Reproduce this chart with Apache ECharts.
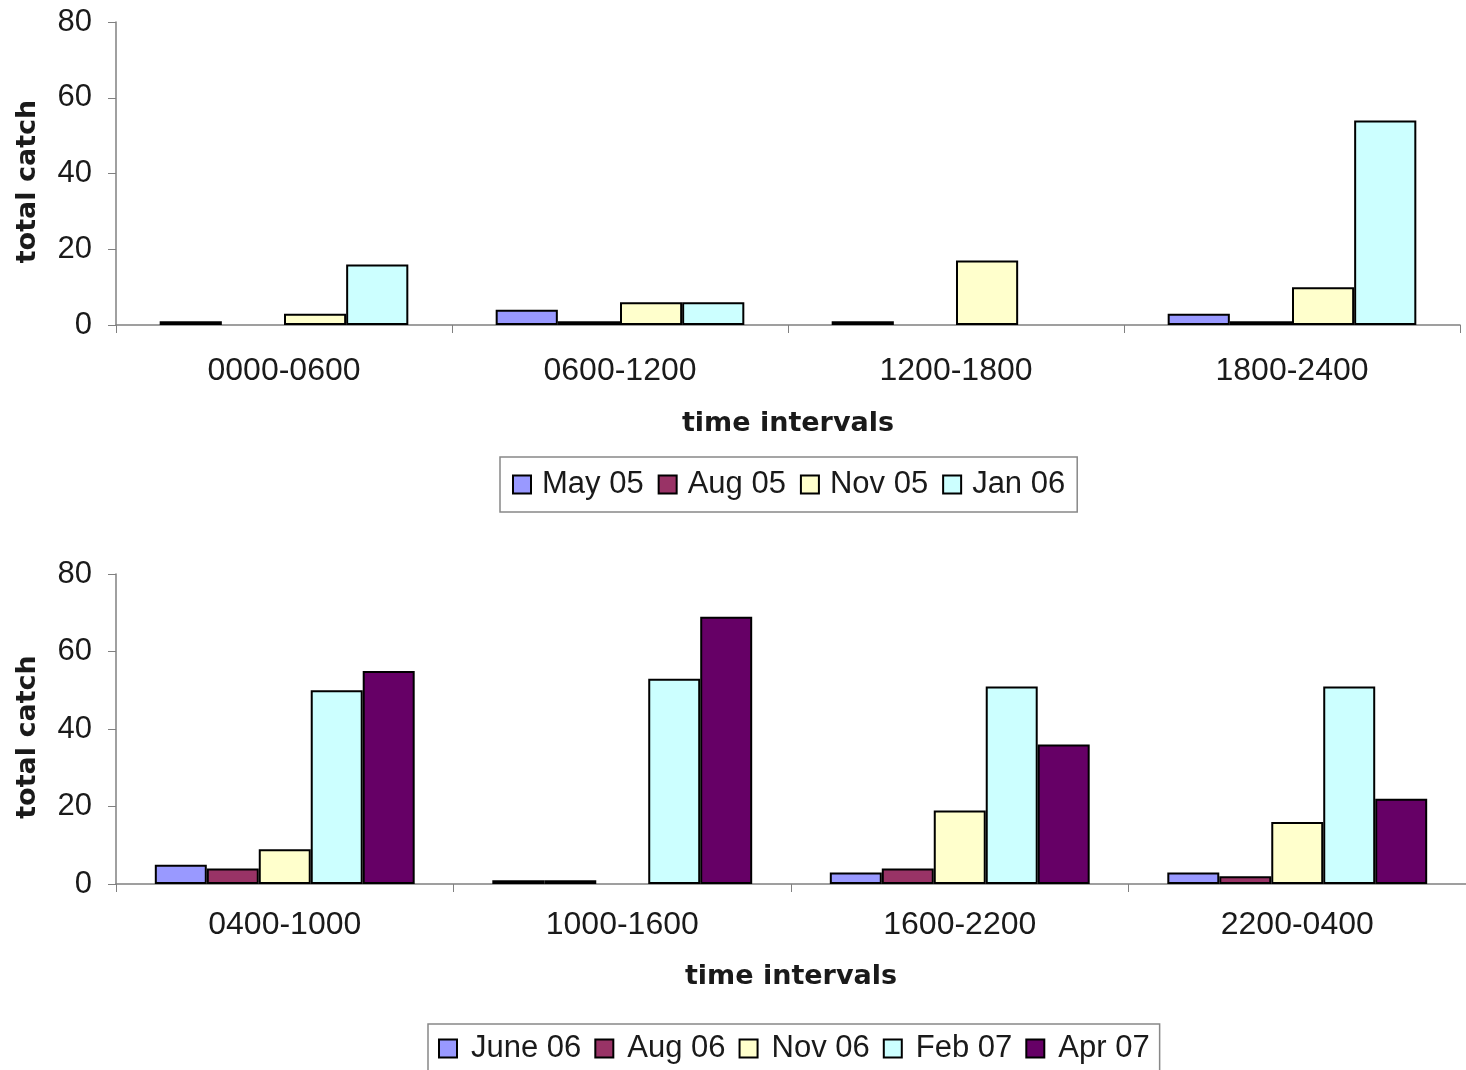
<!DOCTYPE html>
<html>
<head>
<meta charset="utf-8">
<script src="https://cdn.jsdelivr.net/npm/echarts@6/dist/echarts.min.js"></script>
<style>
  html, body { margin: 0; padding: 0; background: #fff; }
  #chart { width: 1466px; height: 1070px; }
</style>
</head>
<body>
<div id="chart"></div>
<script>
// ---- Data ----
const topCategories = ['0000-0600', '0600-1200', '1200-1800', '1800-2400'];
const topSeriesNames = ['May 05', 'Aug 05', 'Nov 05', 'Jan 06'];
const may05 = [1, 4, 1, 3];
const aug05 = [null, 1, null, 1];
const nov05 = [3, 6, 17, 10];
const jan06 = [16, 6, null, 54];

const bottomCategories = ['0400-1000', '1000-1600', '1600-2200', '2200-0400'];
const bottomSeriesNames = ['June 06', 'Aug 06', 'Nov 06', 'Feb 07', 'Apr 07'];
const june06 = [5, 1, 3, 3];
const aug06 = [4, 1, 4, 2];
const nov06 = [9, null, 19, 16];
const feb07 = [50, 53, 51, 51];
const apr07 = [55, 69, 36, 22];

const yTicks = { min: 0, max: 80, interval: 20 };
const yAxisTitle = 'total catch';
const xAxisTitle = 'time intervals';

// ---- Styles ----
const COLORS = {
  'May 05': '#9999ff', 'Aug 05': '#993366', 'Nov 05': '#ffffcc', 'Jan 06': '#ccffff',
  'June 06': '#9999ff', 'Aug 06': '#993366', 'Nov 06': '#ffffcc', 'Feb 07': '#ccffff', 'Apr 07': '#660066'
};
const REG = "'Liberation Sans', Arial, sans-serif";
const BOLD = "'DejaVu Sans', 'Liberation Sans', Arial, sans-serif";
const textColor = '#1a1a1a';
const axisColor = '#808080';

function xAxisCfg(gridIndex, cats, labelMargin, nameGap) {
  return {
    type: 'category', gridIndex, data: cats,
    axisLine: { lineStyle: { color: axisColor, width: 1.5 } },
    axisTick: { show: true, length: 8, lineStyle: { color: axisColor } },
    axisLabel: { color: textColor, fontFamily: REG, fontSize: 32, margin: labelMargin },
    name: xAxisTitle, nameLocation: 'middle', nameGap,
    nameTextStyle: { color: textColor, fontFamily: BOLD, fontWeight: 'bold', fontSize: 27 }
  };
}
function yAxisCfg(gridIndex) {
  return {
    type: 'value', gridIndex, min: yTicks.min, max: yTicks.max, interval: yTicks.interval,
    splitLine: { show: false },
    axisLine: { show: true, lineStyle: { color: axisColor, width: 1.5 } },
    axisTick: { show: true, length: 8, lineStyle: { color: axisColor } },
    axisLabel: { color: textColor, fontFamily: REG, fontSize: 31, margin: 24 },
    name: yAxisTitle, nameLocation: 'middle', nameRotate: 90, nameGap: 75,
    nameTextStyle: { color: textColor, fontFamily: BOLD, fontWeight: 'bold', fontSize: 27, padding: [0, 16, 0, 0] }
  };
}
function barSeries(name, data, axisIndex, catGap) {
  return {
    name, type: 'bar', data, xAxisIndex: axisIndex, yAxisIndex: axisIndex,
    barGap: '0%', barCategoryGap: catGap,
    itemStyle: { color: COLORS[name], borderColor: '#000', borderWidth: 2 },
    emphasis: { disabled: true }, animation: false
  };
}
function legendCfg(names, left, top, padding, textGap, itemGap) {
  return {
    data: names, left, top, orient: 'horizontal',
    icon: 'rect', itemWidth: 18, itemHeight: 18, itemGap,
    padding, borderColor: '#888', borderWidth: 1.5, backgroundColor: '#fff',
    itemStyle: { borderColor: '#000', borderWidth: 2 },
    textStyle: { color: textColor, fontFamily: REG, fontSize: 31, padding: [0, 0, 0, textGap] },
    selectedMode: false
  };
}

const topData = [may05, aug05, nov05, jan06];
const bottomData = [june06, aug06, nov06, feb07, apr07];

const option = {
  backgroundColor: '#fff',
  animation: false,
  grid: [
    { left: 116, top: 22, width: 1344, height: 303 },
    { left: 116, top: 574, width: 1360, height: 310 }
  ],
  xAxis: [xAxisCfg(0, topCategories, 30, 85), xAxisCfg(1, bottomCategories, 25, 79)],
  yAxis: [yAxisCfg(0), yAxisCfg(1)],
  legend: [
    legendCfg(topSeriesNames, 500, 457, [12, 12], 6, 14),
    legendCfg(bottomSeriesNames, 428, 1024, [9, 10], 9, 13)
  ],
  series: [
    ...topSeriesNames.map((n, i) => barSeries(n, topData[i], 0, '26%')),
    ...bottomSeriesNames.map((n, i) => barSeries(n, bottomData[i], 1, '23%'))
  ]
};

const chart = echarts.init(document.getElementById('chart'), null, { renderer: 'canvas' });
chart.setOption(option);
</script>
</body>
</html>
